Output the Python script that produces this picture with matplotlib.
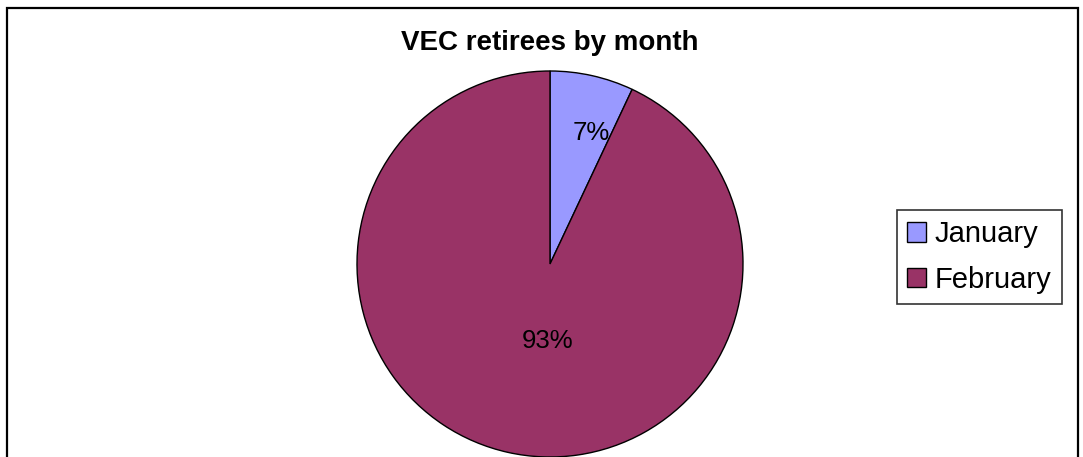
import numpy as np
import matplotlib.pyplot as plt
from matplotlib.patches import Rectangle

# data
months = ["January", "February"]
retirees_pct = [7, 93]
slice_colors = ["#9999FF", "#993366"]

plt.rcParams["font.family"] = ["Liberation Sans", "DejaVu Sans"]

W, H = 1083, 457
fig = plt.figure(figsize=(W / 100, H / 100), dpi=100)

# outer chart frame (bottom edge is cropped off in the reference)
fig.patches.append(Rectangle((7 / W, -0.05), 1071 / W, 1.05 - 7.5 / H,
                             transform=fig.transFigure, fill=False,
                             edgecolor="black", linewidth=1.6))

ax = fig.add_axes([357 / W, 0, 386 / W, 386 / H])
wedges, texts, autotexts = ax.pie(
    retirees_pct,
    colors=slice_colors,
    startangle=90,
    counterclock=False,
    autopct="%1.0f%%",
    wedgeprops=dict(edgecolor="black", linewidth=1.0),
    textprops=dict(fontsize=18.5, color="black"),
)
# put the labels roughly where Excel puts them (radius, angle shift in deg)
label_place = [(0.71, -5.0), (0.40, 10.5)]
for w, t, (r, shift) in zip(wedges, autotexts, label_place):
    a = np.deg2rad((w.theta1 + w.theta2) / 2 + shift)
    t.set_position((r * np.cos(a), r * np.sin(a)))
ax.set_xlim(-1, 1)
ax.set_ylim(-1, 1)
ax.set_aspect("equal")

fig.text(550 / W, 1 - 43 / H, "VEC retirees by month", ha="center", va="center",
         fontsize=20, fontweight="bold")

leg = fig.legend(wedges, months, loc="center left",
                 bbox_to_anchor=(897 / W, 1 - 257 / H),
                 fontsize=21, frameon=True, fancybox=False,
                 handlelength=0.65, handleheight=0.65, handletextpad=0.3,
                 labelspacing=0.6, borderpad=0.35, borderaxespad=0)
leg.get_frame().set_edgecolor("black")
leg.get_frame().set_linewidth(1.2)

fig.savefig("out.png", dpi=100)
